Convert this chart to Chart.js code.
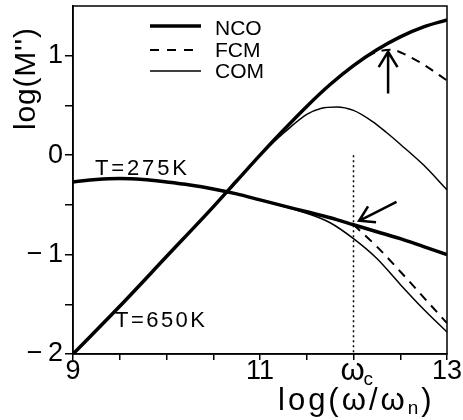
<!DOCTYPE html>
<html>
<head>
<meta charset="utf-8">
<script src="https://cdn.jsdelivr.net/npm/chart.js@4/dist/chart.umd.min.js"></script>
<style>
  html, body { margin: 0; padding: 0; background: #fff; }
</style>
</head>
<body>
<canvas id="myChart" width="463" height="420"></canvas>
<script>
// T = 650K curves
const xHighNCO = [9, 9.5, 10, 10.5, 10.75, 11, 11.25, 11.5, 11.75, 12, 12.25, 12.5, 12.75, 13];
const yHighNCO = [-2, -1.52, -1.02, -0.52, -0.26, 0.0, 0.25, 0.49, 0.71, 0.9, 1.06, 1.19, 1.29, 1.36];
const xHighFCM = [12, 12.2, 12.4, 12.6, 12.8, 13];
const yHighFCM = [0.9, 1.02, 1.06, 0.99, 0.88, 0.75];
const xHighCOM = [10.5, 10.75, 11, 11.1, 11.25, 11.5, 11.65, 11.82, 12, 12.2, 12.35, 12.5, 12.75, 13];
const yHighCOM = [-0.52, -0.26, 0.0, 0.09, 0.22, 0.41, 0.47, 0.485, 0.45, 0.34, 0.23, 0.11, -0.1, -0.35];

// T = 275K curves
const xLowNCO = [9, 9.25, 9.5, 9.75, 10, 10.25, 10.5, 10.75, 11, 11.25, 11.5, 11.75, 12, 12.25, 12.5, 12.75, 13];
const yLowNCO = [-0.27, -0.245, -0.235, -0.245, -0.27, -0.3, -0.34, -0.39, -0.45, -0.51, -0.57, -0.63, -0.7, -0.77, -0.84, -0.92, -1.0];
const xLowFCM = [12, 12.25, 12.5, 12.75, 13];
const yLowFCM = [-0.7, -0.92, -1.17, -1.43, -1.69];
const xLowCOM = [11, 11.25, 11.5, 11.75, 12, 12.25, 12.5, 12.75, 13];
const yLowCOM = [-0.45, -0.515, -0.585, -0.68, -0.84, -1.04, -1.3, -1.55, -1.78];

// omega_c marker
const xOmegaC = [12, 12];
const yOmegaC = [0, -2];

const xTickLabels = [9, 11, 13];
const yTickLabels = [-2, -1, 0, 1];

const pts = (xs, ys) => xs.map((x, i) => ({ x: x, y: ys[i] }));

const FONT = '"Liberation Sans", Arial, sans-serif';
Chart.defaults.font.family = FONT;
Chart.defaults.color = '#000';

function arrow(ctx, x0, y0, x1, y1, len) {
  const a = Math.atan2(y1 - y0, x1 - x0);
  ctx.beginPath();
  ctx.moveTo(x0, y0);
  ctx.lineTo(x1, y1);
  ctx.moveTo(x1 - len * Math.cos(a - 0.55), y1 - len * Math.sin(a - 0.55));
  ctx.lineTo(x1, y1);
  ctx.lineTo(x1 - len * Math.cos(a + 0.55), y1 - len * Math.sin(a + 0.55));
  ctx.stroke();
}

function fitText(ctx, str, x, y, width) {
  ctx.letterSpacing = '0px';
  const w = ctx.measureText(str).width;
  const sp = (width - w) / Math.max(1, str.length - 1);
  ctx.letterSpacing = sp + 'px';
  ctx.fillText(str, x, y);
  ctx.letterSpacing = '0px';
}

const extras = {
  id: 'extras',
  afterDraw(chart) {
    const { ctx, chartArea: a, scales: { x, y } } = chart;
    ctx.save();
    ctx.strokeStyle = '#000';
    ctx.fillStyle = '#000';
    ctx.lineWidth = 1.5;
    ctx.strokeRect(a.left, a.top, a.right - a.left, a.bottom - a.top);

    // legend
    const lx0 = 150, lx1 = 201;
    ctx.lineWidth = 3.5;
    ctx.beginPath(); ctx.moveTo(lx0, 26); ctx.lineTo(lx1, 26); ctx.stroke();
    ctx.lineWidth = 2;
    ctx.setLineDash([9, 8]);
    ctx.beginPath(); ctx.moveTo(lx0, 50); ctx.lineTo(lx1, 50); ctx.stroke();
    ctx.setLineDash([]);
    ctx.lineWidth = 1.5;
    ctx.beginPath(); ctx.moveTo(lx0, 71); ctx.lineTo(lx1, 71); ctx.stroke();
    ctx.font = '21px ' + FONT;
    ctx.textBaseline = 'alphabetic';
    ctx.textAlign = 'left';
    ctx.fillText('NCO', 215, 35);
    ctx.fillText('FCM', 215, 57);
    ctx.fillText('COM', 215, 78);

    // temperature labels
    ctx.font = '22px ' + FONT;
    fitText(ctx, 'T=275K', 95, 175, 92);
    fitText(ctx, 'T=650K', 115, 327, 90);

    // arrows
    ctx.lineWidth = 2.5;
    arrow(ctx, x.getPixelForValue(12.37), y.getPixelForValue(0.62),
      x.getPixelForValue(12.37), y.getPixelForValue(1.04), 18);
    arrow(ctx, x.getPixelForValue(12.46), y.getPixelForValue(-0.47),
      x.getPixelForValue(12.06), y.getPixelForValue(-0.66), 17);

    // omega_c label
    const xc = x.getPixelForValue(12);
    ctx.font = '31px ' + FONT;
    ctx.textAlign = 'center';
    ctx.fillText('ω', xc - 1, 380);
    ctx.font = '19px ' + FONT;
    ctx.textAlign = 'left';
    ctx.fillText('c', xc + 10, 385);

    // x title
    ctx.font = '31px ' + FONT;
    ctx.textAlign = 'left';
    let tx = 278;
    ctx.letterSpacing = '3px';
    ctx.fillText('log(ω/ω', tx, 410);
    tx += ctx.measureText('log(ω/ω').width;
    ctx.font = '19px ' + FONT;
    ctx.fillText('n', tx, 414);
    tx += ctx.measureText('n').width;
    ctx.font = '31px ' + FONT;
    ctx.fillText(')', tx, 410);
    ctx.letterSpacing = '0px';

    // y title
    ctx.save();
    ctx.translate(35, 130);
    ctx.rotate(-Math.PI / 2);
    ctx.font = '30px ' + FONT;
    ctx.textAlign = 'left';
    fitText(ctx, "log(M'')", 0, 0, 102);
    ctx.restore();

    ctx.restore();
  }
};

const ctx = document.getElementById('myChart').getContext('2d');

const myChart = new Chart(ctx, {
  type: 'scatter',
  data: {
    datasets: [
      { label: 'NCO high', data: pts(xHighNCO, yHighNCO), borderWidth: 3.5 },
      { label: 'NCO low', data: pts(xLowNCO, yLowNCO), borderWidth: 3.5 },
      { label: 'FCM high', data: pts(xHighFCM, yHighFCM), borderWidth: 2, borderDash: [9, 7] },
      { label: 'FCM low', data: pts(xLowFCM, yLowFCM), borderWidth: 2, borderDash: [9, 7] },
      { label: 'COM high', data: pts(xHighCOM, yHighCOM), borderWidth: 1.5 },
      { label: 'COM low', data: pts(xLowCOM, yLowCOM), borderWidth: 1.5 },
      { label: 'omega c', data: pts(xOmegaC, yOmegaC), borderWidth: 1.5, borderDash: [2, 3], cubicInterpolationMode: 'default', tension: 0 },
    ].map(d => Object.assign({
      showLine: true,
      borderColor: '#000',
      backgroundColor: '#000',
      pointRadius: 0,
      cubicInterpolationMode: 'monotone',
      fill: false,
    }, d)),
  },
  options: {
    responsive: false,
    animation: false,
    devicePixelRatio: 1,
    layout: { padding: { top: 6, right: 16, left: 0, bottom: 0 } },
    plugins: { legend: { display: false }, tooltip: { enabled: false } },
    scales: {
      x: {
        type: 'linear',
        min: 9,
        max: 13,
        afterFit: s => { s.height = 66; s.paddingLeft = 0; s.paddingRight = 0; },
        border: { display: true, color: '#000', width: 1.5 },
        grid: { drawOnChartArea: false, drawTicks: true, tickLength: 6, color: '#000', lineWidth: 1.5 },
        ticks: {
          stepSize: 0.5,
          padding: -5,
          maxRotation: 0,
          autoSkip: false,
          font: { size: 27 },
          color: '#000',
          callback: v => xTickLabels.includes(v) ? String(v) : '',
        },
      },
      y: {
        type: 'linear',
        min: -2,
        max: 1.5,
        afterFit: s => { s.width = 73; s.paddingTop = 0; s.paddingBottom = 0; },
        afterBuildTicks: s => { s.ticks = s.ticks.filter(t => t.value < 1.5); },
        border: { display: true, color: '#000', width: 1.5 },
        grid: { drawOnChartArea: false, drawTicks: true, tickLength: 8, color: '#000', lineWidth: 1.5 },
        ticks: {
          stepSize: 0.5,
          padding: 2,
          autoSkip: false,
          font: { size: 27 },
          color: '#000',
          callback: v => yTickLabels.includes(v) ? (v < 0 ? '−\u2009' + Math.abs(v) : String(v)) : '',
        },
      },
    },
  },
  plugins: [extras],
});
</script>
</body>
</html>
